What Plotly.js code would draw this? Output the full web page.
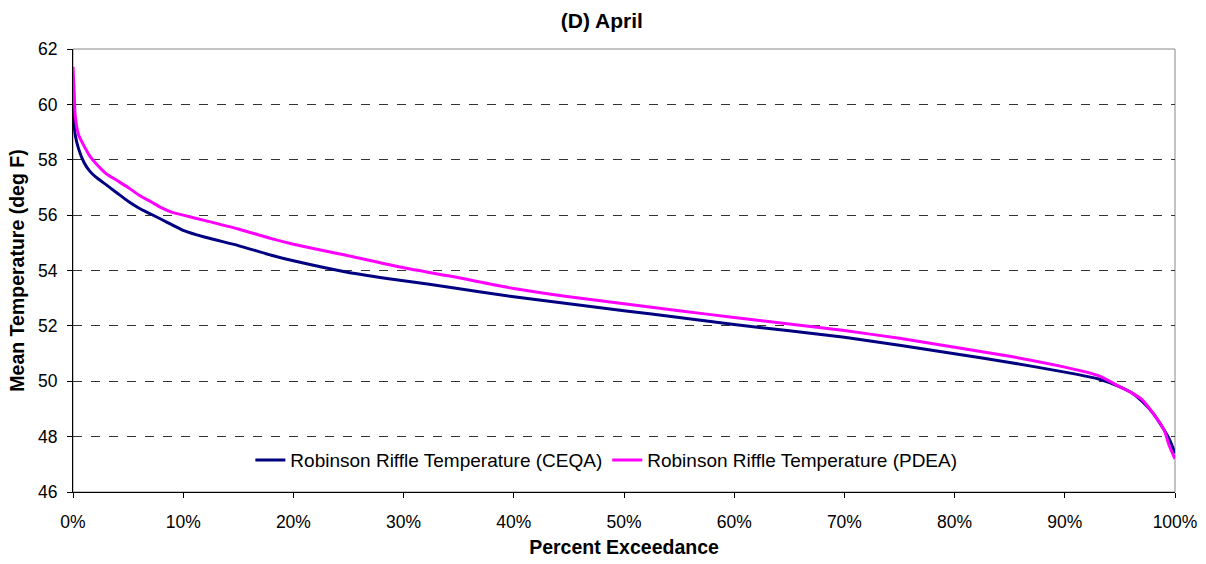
<!DOCTYPE html>
<html>
<head>
<meta charset="utf-8">
<script src="https://cdn.plot.ly/plotly-3.0.1.min.js"></script>
<style>html,body{margin:0;padding:0;background:#fff;}#chart{width:1206px;height:564px;}</style>
</head>
<body>
<div id="chart"></div>
<script>
// Percent exceedance (fraction)
const pctCEQA = [0, 0.001, 0.002, 0.005, 0.01, 0.015, 0.02, 0.03, 0.04, 0.05, 0.06, 0.07, 0.08, 0.09, 0.10, 0.12, 0.15, 0.18, 0.20, 0.25, 0.30, 0.343, 0.40, 0.45, 0.50, 0.55, 0.60, 0.65, 0.70, 0.75, 0.80, 0.85, 0.90, 0.93, 0.95, 0.96, 0.97, 0.98, 0.99, 0.995, 1.0];
const tempCEQA = [60.0, 59.3, 58.9, 58.4, 57.9, 57.6, 57.4, 57.1, 56.8, 56.5, 56.25, 56.05, 55.85, 55.65, 55.45, 55.2, 54.9, 54.55, 54.35, 53.93, 53.63, 53.39, 53.05, 52.8, 52.55, 52.3, 52.05, 51.82, 51.59, 51.3, 50.99, 50.68, 50.33, 50.09, 49.8, 49.6, 49.28, 48.85, 48.25, 47.9, 47.4];

const pctPDEA = [0, 0.001, 0.002, 0.005, 0.01, 0.015, 0.02, 0.03, 0.04, 0.05, 0.06, 0.07, 0.08, 0.09, 0.10, 0.12, 0.15, 0.18, 0.20, 0.25, 0.30, 0.343, 0.40, 0.45, 0.50, 0.55, 0.60, 0.65, 0.70, 0.75, 0.80, 0.85, 0.90, 0.93, 0.95, 0.96, 0.97, 0.98, 0.99, 0.995, 1.0];
const tempPDEA = [61.36, 60.5, 59.6, 58.9, 58.5, 58.15, 57.9, 57.5, 57.25, 57.0, 56.72, 56.5, 56.27, 56.1, 56.0, 55.8, 55.5, 55.15, 54.95, 54.53, 54.1, 53.79, 53.35, 53.05, 52.8, 52.55, 52.3, 52.07, 51.83, 51.55, 51.23, 50.9, 50.51, 50.21, 49.8, 49.6, 49.34, 48.85, 48.25, 47.65, 47.2];

const seriesNames = ["Robinson Riffle Temperature (CEQA)", "Robinson Riffle Temperature (PDEA)"];
const yTicks = [46, 48, 50, 52, 54, 56, 58, 60, 62];
const xTicks = [0, 0.1, 0.2, 0.3, 0.4, 0.5, 0.6, 0.7, 0.8, 0.9, 1.0];
const xTickText = ["0%", "10%", "20%", "30%", "40%", "50%", "60%", "70%", "80%", "90%", "100%"];

const FONT = '"Liberation Sans", Arial, sans-serif';

const traces = [
  {x: pctCEQA, y: tempCEQA, name: seriesNames[0], type: 'scatter', mode: 'lines',
   line: {color: '#000080', width: 3, shape: 'spline', smoothing: 0.6}},
  {x: pctPDEA, y: tempPDEA, name: seriesNames[1], type: 'scatter', mode: 'lines',
   line: {color: '#FF00FF', width: 3, shape: 'spline', smoothing: 0.6}}
];

const layout = {
  width: 1206, height: 564,
  margin: {l: 73, r: 31, t: 49, b: 72},
  paper_bgcolor: '#fff', plot_bgcolor: '#fff',
  font: {family: FONT, size: 17.5, color: '#000'},
  title: {text: '<b>(D) April</b>', font: {family: FONT, size: 21, color: '#000'},
          x: 0.499, xref: 'container', xanchor: 'center', y: 0.964, yref: 'container', yanchor: 'middle'},
  showlegend: true,
  legend: {orientation: 'h', x: 0.484, xanchor: 'center', y: 0.072, yanchor: 'middle',
           bgcolor: 'rgba(0,0,0,0)', font: {family: FONT, size: 19, color: '#000'},
           itemwidth: 30, tracegroupgap: 0},
  xaxis: {
    range: [0, 1], tickmode: 'array', tickvals: xTicks, ticktext: xTickText,
    showgrid: false, zeroline: false, showline: true, linecolor: '#000', linewidth: 1,
    ticks: 'outside', ticklen: 5, tickcolor: '#000', tickfont: {size: 17.5},
    ticklabelstandoff: 9,
    title: {text: '<b>Percent Exceedance</b>', font: {size: 19.5}, standoff: 9},
    fixedrange: true
  },
  yaxis: {
    range: [46, 62], tickmode: 'array', tickvals: yTicks,
    showgrid: true, gridcolor: '#333', griddash: 'dash', gridwidth: 1,
    zeroline: false, showline: true, linecolor: '#000', linewidth: 1,
    ticks: 'outside', ticklen: 5, tickcolor: '#000', tickfont: {size: 17.5},
    ticklabelstandoff: 6,
    title: {text: '<b>Mean Temperature (deg F)</b>', font: {size: 19.5}, standoff: 8},
    fixedrange: true
  },
  shapes: [
    {type: 'rect', xref: 'paper', yref: 'paper', x0: 0, x1: 1, y0: 0, y1: 1,
     line: {color: '#888', width: 1}, fillcolor: 'rgba(0,0,0,0)', layer: 'below'}
  ]
};

Plotly.newPlot('chart', traces, layout, {displayModeBar: false, staticPlot: true});
</script>
</body>
</html>
